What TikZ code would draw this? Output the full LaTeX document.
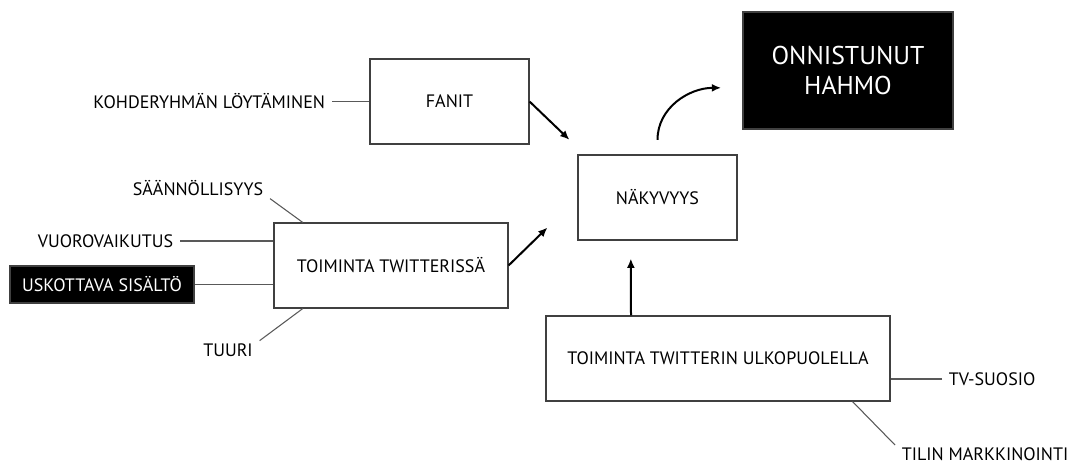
\documentclass[tikz,border=0pt]{standalone}
\usepackage{fontspec}
\setmainfont{PT Sans}
\usetikzlibrary{arrows.meta,positioning}

\begin{document}
\begin{tikzpicture}[
		x = 0.75pt, y = -0.75pt,
		box/.style = {draw = black!75, line width = 0.8pt, shape = rectangle, align = center, font = \fontsize{13.5}{15}\selectfont},
		blackbox/.style = {box, fill = black, text = white},
		lbl/.style = {inner xsep = 5pt, inner ysep = 2pt, font = \fontsize{13.5}{15}\selectfont},
		conn/.style = {draw = black!65, line width = 0.8pt},
		arr/.style = {-{Latex[length = 7pt, width = 6pt]}, line width = 1.5pt},
	]
	\useasboundingbox (0,0) rectangle (1067,465);

	\node[box, minimum width = 119.25pt, minimum height = 63.75pt] (fanit) at (449.5,101.5) {FANIT};
	\node[box, minimum width = 119.25pt, minimum height = 63.75pt] (nak) at (657.5,197.5) {NÄKYVYYS};
	\node[box, minimum width = 175.5pt, minimum height = 63.75pt] (tw) at (391,265.5) {TOIMINTA TWITTERISSÄ};
	\node[box, minimum width = 258pt, minimum height = 63.75pt] (ulko) at (718,358.5) {TOIMINTA TWITTERIN ULKOPUOLELLA};
	\node[blackbox, minimum width = 157.5pt, minimum height = 87.75pt, font = \fontsize{19.3}{23}\selectfont] (hahmo) at (848,70.5) {ONNISTUNUT\\HAHMO};
	\node[blackbox, minimum width = 138pt, minimum height = 27.75pt] (usk) at (102,284.5) {USKOTTAVA SISÄLTÖ};

	\node[lbl, anchor = east] (kohde) at (332,101.5) {KOHDERYHMÄN LÖYTÄMINEN};
	\node[lbl] (saan) at (198,188) {SÄÄNNÖLLISYYS};
	\node[lbl, anchor = east] (vuoro) at (180,241) {VUOROVAIKUTUS};
	\node[lbl] (tuuri) at (228,350) {TUURI};
	\node[lbl, anchor = west] (tvs) at (942,379) {TV-SUOSIO};
	\node[lbl, anchor = north west] (tilin) at (895,445) {TILIN MARKKINOINTI};

	\draw[conn] (kohde.east) -- (kohde.east -| fanit.west);
	\draw[conn] (saan.south east) -- ([xshift = 22pt]tw.north west);
	\draw[conn] (vuoro.east) -- (vuoro.east -| tw.west);
	\draw[conn] (usk.east) -- (usk.east -| tw.west);
	\draw[conn] (tuuri.north east) -- ([xshift = 22pt]tw.south west);
	\draw[conn] (tvs.west) -- (tvs.west -| ulko.east);
	\draw[conn] ([xshift = -28.5pt]ulko.south east) -- (tilin.north west);

	\draw[arr] (fanit.east) -- ([shift = {(-6pt,11pt)}]nak.north west);
	\draw[arr] (tw.east) -- ([shift = {(-22.5pt,9.75pt)}]nak.south west);
	\draw[arr] ([xshift = -65.25pt]ulko.north) -- ([xshift = -20pt, yshift = -13.5pt]nak.south);
	\draw[arr] ([yshift = 11pt]nak.north) to[out = 90, in = 180] ([shift = {(-16pt,-13pt)}]hahmo.west);
\end{tikzpicture}
\end{document}
